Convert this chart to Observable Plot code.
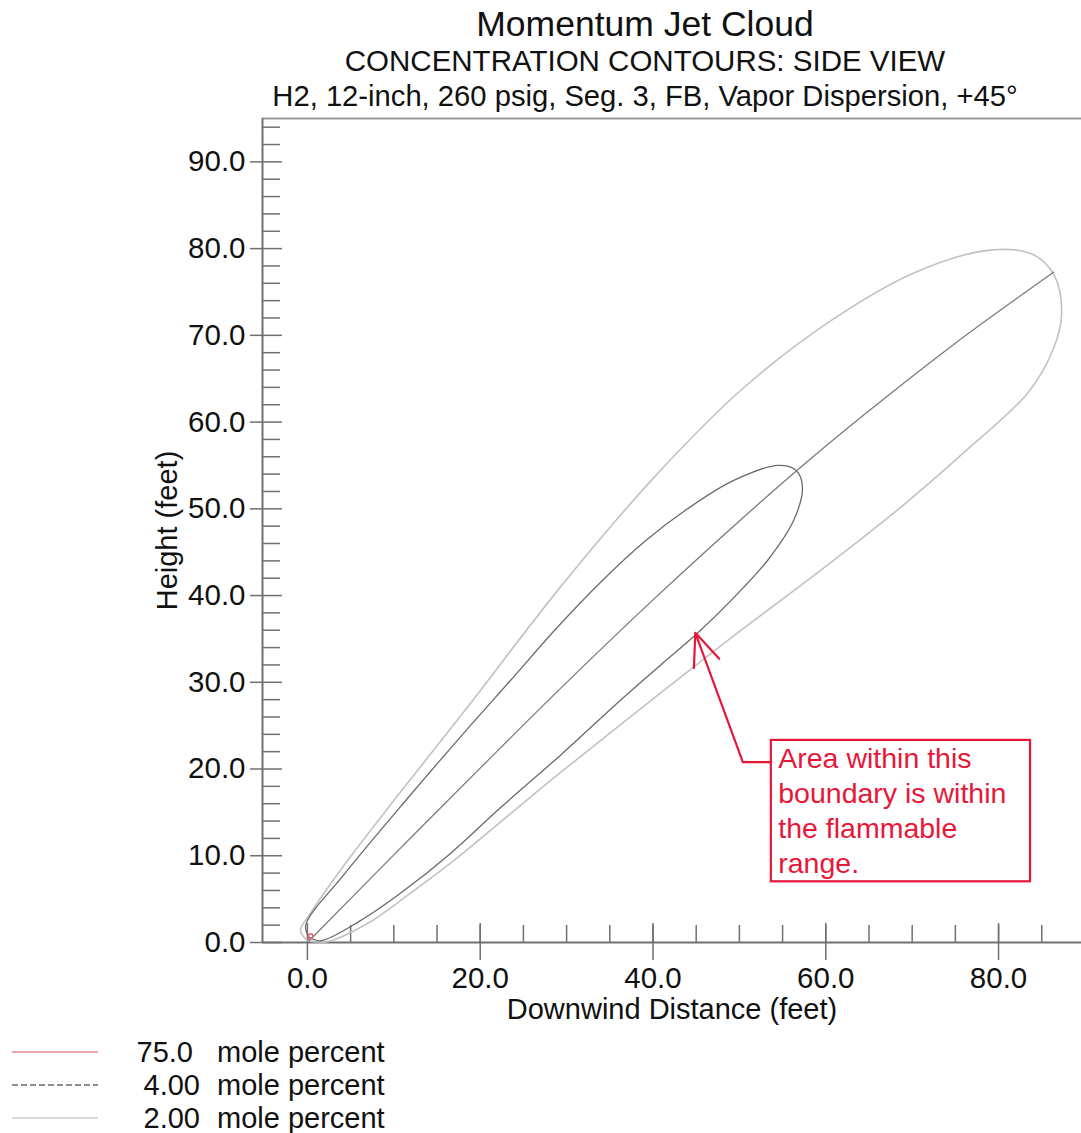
<!DOCTYPE html>
<html><head><meta charset="utf-8">
<script src="https://cdn.jsdelivr.net/npm/d3@7"></script>
<script src="https://cdn.jsdelivr.net/npm/@observablehq/plot@0.6"></script>
<style>
body{margin:0;background:#fff;font-family:"Liberation Sans",Arial,sans-serif;}
#page{position:relative;width:1081px;height:1133px;overflow:hidden;background:#fff;}
.t{position:absolute;left:0;width:1290px;text-align:center;color:#111;white-space:nowrap;line-height:1;}
#chart{position:absolute;left:0;top:110px;}
.lg{position:absolute;line-height:1;font-size:29px;color:#111;white-space:nowrap;}
</style></head>
<body><div id="page">
<div class="t" style="top:7px;font-size:35.5px;">Momentum Jet Cloud</div>
<div class="t" style="top:46px;font-size:29.5px;">CONCENTRATION CONTOURS: SIDE VIEW</div>
<div class="t" style="top:82px;font-size:29.2px;">H2, 12-inch, 260 psig, Seg. 3, FB, Vapor Dispersion, +45°</div>
<div id="chart"></div>
<div id="legend"></div>
</div>
<script>
// ---- data (feet) ----
const xMajorTicks = [0, 20, 40, 60, 80];
const xMinorTicks = [5, 10, 15, 20, 25, 30, 35, 40, 45, 50, 55, 60, 65, 70, 75, 80, 85];
const yMajorTicks = [0, 10, 20, 30, 40, 50, 60, 70, 80, 90];
const yMinorTicks = [2, 4, 6, 8, 12, 14, 16, 18, 22, 24, 26, 28, 32, 34, 36, 38, 42, 44, 46, 48, 52, 54, 56, 58, 62, 64, 66, 68, 72, 74, 76, 78, 82, 84, 86, 88, 92, 94];
const xDomain = [-5.2, 89.6];
const yDomain = [0, 95];

// 2.00 mole percent contour
const contour2 = [
  [0.0, 0.2], [2.3, 0.1], [7.3, 2.4], [11.0, 5.0], [16.9, 9.4], [23.2, 14.6], [29.3, 19.6],
  [39.4, 27.6], [49.0, 35.1], [59.4, 42.9], [68.7, 50.2], [76.0, 56.5], [83.5, 63.5],
  [86.4, 68.6], [87.3, 72.5], [86.4, 77.0], [83.8, 79.4], [78.8, 79.8], [70.2, 77.2],
  [60.6, 71.7], [50.2, 63.7], [40.1, 53.6], [29.3, 41.0], [19.2, 28.0], [15.1, 22.8],
  [10.5, 17.0], [7.3, 12.9], [3.8, 8.3], [0.3, 3.3], [-0.8, 1.4], [0.0, 0.2]
];
// 4.00 mole percent contour
const contour4 = [
  [0.2, 0.6], [1.5, 0.2], [6.1, 2.5], [10.8, 5.7], [16.6, 10.3], [22.3, 15.5], [29.3, 21.6],
  [36.2, 27.9], [40.9, 32.0], [45.2, 35.7], [49.3, 39.7], [53.3, 44.1], [56.3, 48.7],
  [57.3, 52.5], [56.6, 54.4], [54.5, 55.0], [49.4, 53.3], [44.0, 50.0], [39.0, 46.2],
  [34.0, 41.6], [28.8, 36.2], [23.5, 30.2], [18.5, 24.6], [11.4, 16.4], [4.2, 7.8],
  [-0.2, 2.0], [0.2, 0.6]
];
// 75.0 mole percent contour
const contour75 = [[0.1, 0.4], [0.5, 0.5], [0.6, 0.9], [0.3, 1.0], [0.1, 0.7], [0.1, 0.4]];
// plume centerline
const centerline = [
  [0.0, 0.0], [10.0, 10.1], [20.0, 20.1], [29.3, 29.3], [40.0, 39.5], [50.0, 48.6],
  [57.1, 54.8], [65.0, 61.3], [75.0, 69.1], [86.4, 77.3]
];

// callout
const calloutBox = [{x1: 53.7, x2: 83.7, y1: 7.0, y2: 23.3}];
const calloutLeader = [[53.7, 20.8], [50.4, 20.8]];
const calloutArrow = [{x1: 50.4, y1: 20.8, x2: 44.9, y2: 35.7}];
const calloutText = ["Area within this\nboundary is within\nthe flammable\nrange."];
const calloutTextAt = [54.5, 15.35];

// legend
const legendLevels = ["75.0", "4.00", "2.00"];
const legendColors = ["#e58a96", "#6a6a6a", "#cdcdcd"];
const legendDash = [null, "6,3", null];

// ---- layout ----
const W = 1081, H = 920, mL = 262, mR = 0, mT = 8, mB = 88;
const frameW = W - mL - mR, frameH = H - mT - mB;
const axisColor = "#707070";
const red = "#e8173a";
const rows = pts => pts.map(([x, y]) => ({x, y}));

const chart = Plot.plot({
  width: W, height: H,
  marginLeft: mL, marginRight: mR, marginTop: mT, marginBottom: mB,
  style: {fontFamily: "'Liberation Sans', Arial, sans-serif", fontSize: "29px", background: "transparent", color: "#111"},
  x: {domain: xDomain},
  y: {domain: yDomain},
  marks: [
    // frame lines
    Plot.ruleY([yDomain[1]], {stroke: "#9a9a9a", strokeWidth: 2}),
    Plot.ruleX([xDomain[0]], {stroke: axisColor, strokeWidth: 2}),
    Plot.ruleY([yDomain[0]], {stroke: axisColor, strokeWidth: 2}),
    // inward ticks
    Plot.tickX(xMinorTicks, {x: d => d, insetTop: frameH - 17, stroke: axisColor, strokeWidth: 1.5}),
    Plot.tickX(xMajorTicks, {x: d => d, insetTop: frameH - 19, stroke: axisColor, strokeWidth: 1.5}),
    Plot.tickY(yMinorTicks, {y: d => d, insetRight: frameW - 18, stroke: axisColor, strokeWidth: 1.5}),
    Plot.tickY(yMajorTicks, {y: d => d, insetRight: frameW - 20, stroke: axisColor, strokeWidth: 1.5}),
    // axes
    Plot.axisX(xMajorTicks, {tickSize: 18, tickPadding: 7, tickFormat: d => d.toFixed(1), stroke: axisColor, strokeWidth: 1.5, label: null, fontSize: 29.5}),
    Plot.axisY(yMajorTicks, {tickSize: 12, tickPadding: 5, tickFormat: d => d.toFixed(1), stroke: axisColor, strokeWidth: 1.5, label: null, fontSize: 29.5}),
    Plot.text(["Height (feet)"], {text: d => d, frameAnchor: "left", dx: -95, rotate: -90, textAnchor: "middle", lineAnchor: "middle", fontSize: 29, fill: "#111"}),
    Plot.text(["Downwind Distance (feet)"], {text: d => d, frameAnchor: "bottom", dy: 67, textAnchor: "middle", lineAnchor: "middle", fontSize: 29, fill: "#111"}),
    // contours
    Plot.line(rows(contour2), {x: "x", y: "y", stroke: "#c2c2c2", strokeWidth: 1.6, curve: "catmull-rom"}),
    Plot.line(rows(contour4), {x: "x", y: "y", stroke: "#6a6a6a", strokeWidth: 1.3, curve: "catmull-rom"}),
    Plot.line(rows(centerline), {x: "x", y: "y", stroke: "#7a7a7a", strokeWidth: 1.3, curve: "catmull-rom"}),
    Plot.line(rows(contour75), {x: "x", y: "y", stroke: "#e06070", strokeWidth: 1.5, curve: "catmull-rom"}),
    // callout
    Plot.rect(calloutBox, {x1: "x1", x2: "x2", y1: "y1", y2: "y2", fill: "white", stroke: red, strokeWidth: 2.2}),
    Plot.line(rows(calloutLeader), {x: "x", y: "y", stroke: red, strokeWidth: 2.2}),
    Plot.arrow(calloutArrow, {x1: "x1", y1: "y1", x2: "x2", y2: "y2", stroke: red, strokeWidth: 2.2, headLength: 24, headAngle: 45}),
    Plot.text(calloutText, {x: calloutTextAt[0], y: calloutTextAt[1], text: d => d, textAnchor: "start", lineAnchor: "middle", lineHeight: 1.22, fontSize: 28.5, fill: red})
  ]
});
document.getElementById("chart").appendChild(chart);

// legend
const legendRight = [193, 200, 200];
const lg = document.getElementById("legend");
legendLevels.forEach((lev, i) => {
  const cy = 1052 + i * 33;
  const sw = document.createElementNS("http://www.w3.org/2000/svg", "svg");
  sw.setAttribute("width", 90); sw.setAttribute("height", 6);
  sw.style.position = "absolute"; sw.style.left = "10px"; sw.style.top = (cy - 3) + "px";
  const ln = document.createElementNS("http://www.w3.org/2000/svg", "line");
  ln.setAttribute("x1", 2); ln.setAttribute("x2", 88); ln.setAttribute("y1", 3); ln.setAttribute("y2", 3);
  ln.setAttribute("stroke", legendColors[i]); ln.setAttribute("stroke-width", 1.5);
  if (legendDash[i]) ln.setAttribute("stroke-dasharray", legendDash[i]);
  sw.appendChild(ln); lg.appendChild(sw);
  const num = document.createElement("div");
  num.className = "lg"; num.textContent = lev;
  num.style.left = (legendRight[i] - 100) + "px"; num.style.width = "100px"; num.style.textAlign = "right";
  num.style.top = (cy - 14) + "px";
  lg.appendChild(num);
  const txt = document.createElement("div");
  txt.className = "lg"; txt.textContent = "mole percent";
  txt.style.left = "217px"; txt.style.top = (cy - 14) + "px";
  lg.appendChild(txt);
});
</script>
</body></html>
